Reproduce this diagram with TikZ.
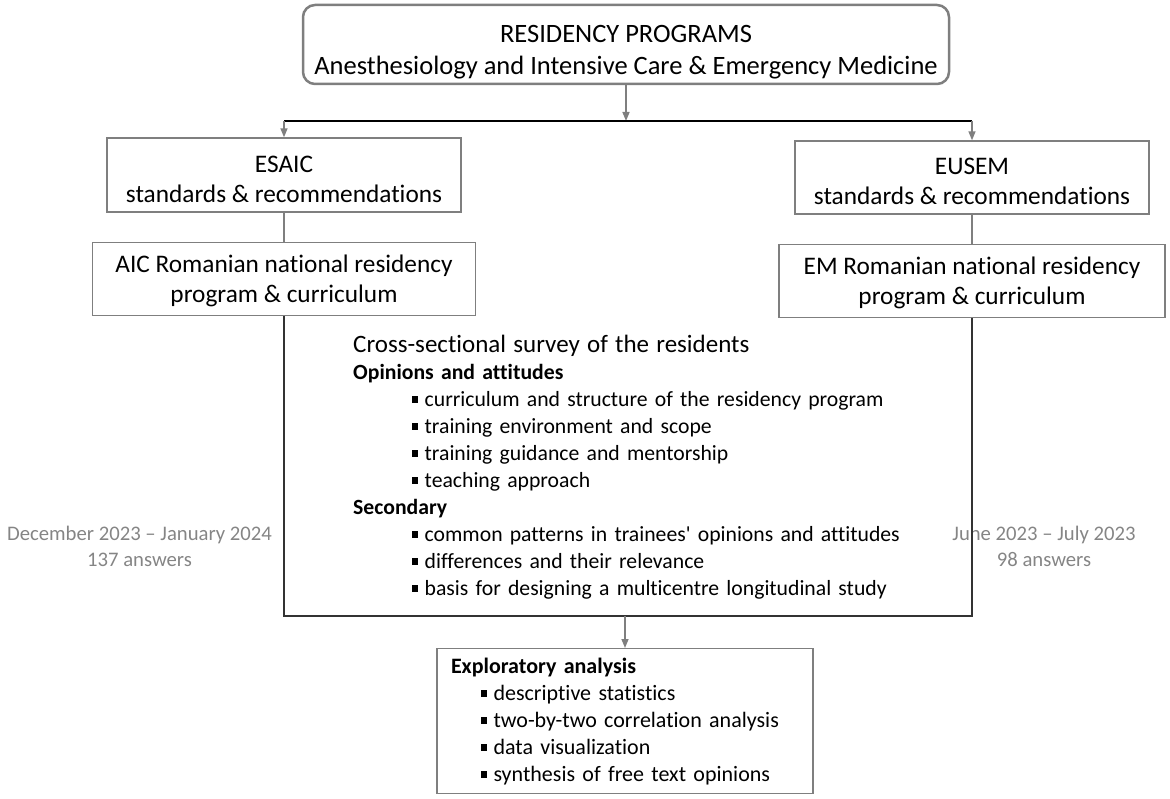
\documentclass[tikz,border=0pt]{standalone}
\usepackage{fontspec}
\setmainfont{Carlito}[Ligatures={TeX,NoCommon}]
\newfontfamily\apfont{Carlito}[Ligatures=NoCommon]
\usetikzlibrary{arrows.meta, positioning}
\definecolor{boxgray}{HTML}{7F7F7F}
\definecolor{dategray}{HTML}{858585}
\newcommand{\sqb}{\rule[3pt]{6pt}{7.5pt}\hspace{6.5pt}}
\newcommand{\hstr}[1]{\rule{0pt}{#1}}

\begin{document}
\begin{tikzpicture}[x=1pt, y=-1pt,
      prog/.style={rectangle, draw=boxgray, line width=2.5pt, rounded corners=12pt,
                   minimum width=646pt, minimum height=79pt, inner sep=0pt,
                   align=center, font=\fontsize{26.5}{32}\selectfont},
      std/.style={rectangle, draw=boxgray, line width=1.4pt, minimum width=354pt,
                  minimum height=73pt, inner sep=0pt, align=center,
                  font=\fontsize{25.3}{30}\selectfont},
      nat/.style={std, minimum width=383pt},
      surv/.style={anchor=north west, inner sep=0pt, text width=620pt, align=left,
                   font=\fontsize{21.7}{27}\selectfont},
      anl/.style={rectangle, draw=boxgray, line width=1.4pt, minimum width=376pt,
                  minimum height=145pt, text width=348pt, inner xsep=14pt,
                  inner ysep=0pt, align=left, font=\fontsize{22}{27}\selectfont},
      period/.style={text=dategray, align=center, inner sep=0pt,
                     font=\fontsize{20.7}{26}\selectfont},
      arr/.style={-{Triangle[length=9pt, width=7pt]}, draw=boxgray, line width=1.5pt},
      link/.style={draw=boxgray, line width=1.5pt},
      split/.style={draw=black, line width=1.6pt},
      frame/.style={draw=black!80, line width=1.6pt},
    ]
      \useasboundingbox (0,0) rectangle (1170,799);

      \node[prog] (prog) at (626,44.5) {\hstr{33pt}RESIDENCY PROGRAMS\\
        Anesthesiology and Intensive Care \& Emergency Medicine};
      \coordinate (fork) at (626,121);
      \node[std, minimum height=74pt] (esaic) at (284,175) {\hstr{25pt}ESAIC\\standards \& recommendations};
      \node[nat, below=29pt of esaic] (aic) {\hstr{21pt}AIC Romanian national residency\\program \& curriculum};
      \node[std] (eusem) at (972,177.5) {\hstr{25pt}EUSEM\\standards \& recommendations};
      \node[nat, below=29pt of eusem, minimum width=386pt] (em) {\hstr{21pt}EM Romanian national residency\\program \& curriculum};

      \node[surv] (survey) at (353,334.7) {%
        {\fontsize{25}{27}\selectfont Cross-sectional survey of the residents}\\
        \textbf{Opinions and attitudes}\\
        \hspace*{59pt}\sqb curriculum and structure of the residency program\\
        \hspace*{59pt}\sqb training environment and scope\\
        \hspace*{59pt}\sqb training guidance and mentorship\\
        \hspace*{59pt}\sqb teaching approach\\
        \textbf{Secondary}\\
        \hspace*{59pt}\sqb common patterns in trainees{\apfont'} opinions and attitudes\\
        \hspace*{59pt}\sqb differences and their relevance\\
        \hspace*{59pt}\sqb basis for designing a multicentre longitudinal study};

      \node[period] (aicper) at (139.5,546) {December 2023 – January 2024\\137 answers};
      \node[period] (emper) at (1044,546) {June 2023 – July 2023\\98 answers};

      \coordinate (join) at (625,616);
      \node[anl, below=32pt of join] (expl) {%
        \textbf{Exploratory analysis}\\
        \hspace*{30pt}\sqb descriptive statistics\\
        \hspace*{30pt}\sqb two-by-two correlation analysis\\
        \hspace*{30pt}\sqb data visualization\\
        \hspace*{30pt}\sqb synthesis of free text opinions};

      \draw[arr] (prog) -- (fork);
      \draw[split] (esaic.north |- fork) -- (eusem.north |- fork);
      \draw[arr] (esaic.north |- fork) -- (esaic);
      \draw[arr] (eusem.north |- fork) -- (eusem);
      \draw[link] (esaic) -- (aic);
      \draw[link] (eusem) -- (em);
      \draw[frame] (aic) |- (join) -| (em);
      \draw[arr] (join) -- (expl);
    \end{tikzpicture}
\end{document}
